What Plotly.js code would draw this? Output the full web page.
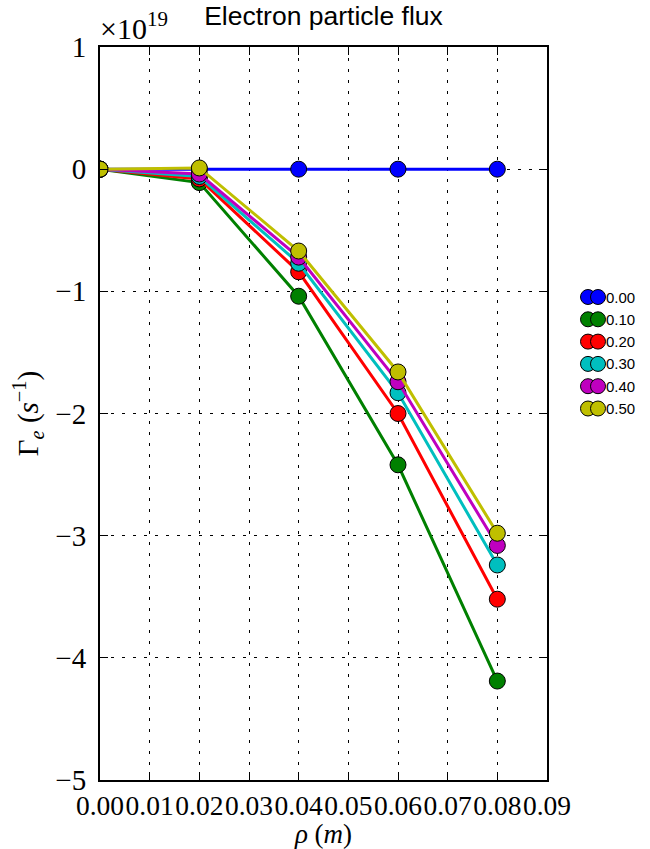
<!DOCTYPE html>
<html>
<head>
<meta charset="utf-8">
<script src="https://cdn.plot.ly/plotly-3.0.1.min.js"></script>
<style>html,body{margin:0;padding:0;background:#fff;}#chart{width:650px;height:849px;}</style>
</head>
<body>
<div id="chart"></div>
<script>
// Radial position rho (m)
const rho = [0.00, 0.02, 0.04, 0.06, 0.08];
// Series labels
const seriesLabels = ["0.00", "0.10", "0.20", "0.30", "0.40", "0.50"];
// Electron particle flux, in units of 1e19 s^-1
const flux000 = [0, 0, 0, 0, 0];
const flux010 = [0, -0.11, -1.04, -2.42, -4.19];
const flux020 = [0, -0.08, -0.84, -2.00, -3.52];
const flux030 = [0, -0.06, -0.77, -1.83, -3.24];
const flux040 = [0, -0.04, -0.72, -1.74, -3.08];
const flux050 = [0, 0.01, -0.67, -1.66, -2.98];
const xTicks = [0, 0.01, 0.02, 0.03, 0.04, 0.05, 0.06, 0.07, 0.08, 0.09];
const yTicks = [1, 0, -1, -2, -3, -4, -5];

const allFlux = [flux000, flux010, flux020, flux030, flux040, flux050];
const colors = ["#0000ff", "#008000", "#ff0000", "#00bfbf", "#bf00bf", "#bfbf00"];

const traces = allFlux.map((ys, i) => ({
  x: rho, y: ys, type: "scatter", mode: "lines+markers",
  name: seriesLabels[i], showlegend: false,
  line: {color: colors[i], width: 3},
  marker: {color: colors[i], size: 16, line: {color: "#000", width: 1}}
}));

// Custom legend: two overlapping markers per entry (matplotlib style)
const W = 447, H = 733, L = 100, T = 47;
const shapes = [];
const annotations = [];
seriesLabels.forEach((lab, i) => {
  const py = 297 + i * 22.3;
  const yp = (T + H - py) / H;
  [588, 598].forEach(px => {
    const xp = (px - L) / W;
    shapes.push({type: "circle", xref: "paper", yref: "paper",
      xsizemode: "pixel", ysizemode: "pixel", xanchor: xp, yanchor: yp,
      x0: -7.5, x1: 7.5, y0: -7.5, y1: 7.5,
      fillcolor: colors[i], line: {color: "#000", width: 1}});
  });
  annotations.push({xref: "paper", yref: "paper", x: (604 - L) / W, y: yp,
    xanchor: "left", yanchor: "middle", showarrow: false, text: lab,
    font: {family: "Liberation Sans, Arial, sans-serif", size: 15, color: "#000"}});
});
annotations.push({xref: "paper", yref: "paper", x: 0, y: 1, xanchor: "left", yanchor: "bottom",
  xshift: -2, yshift: 0, showarrow: false, text: "×10<sup>19</sup>",
  font: {family: "Liberation Serif, serif", size: 30, color: "#000"}});

const axisCommon = {
  showline: true, linecolor: "#000", linewidth: 2, mirror: "allticks",
  ticks: "inside", ticklen: 8, tickwidth: 1, tickcolor: "#000",
  showgrid: true, gridcolor: "#000", gridwidth: 1, griddash: "3px,8px",
  zeroline: false
};

const layout = {
  width: 650, height: 849,
  margin: {l: L, r: 650 - L - W, t: T, b: 849 - T - H},
  paper_bgcolor: "#fff", plot_bgcolor: "#fff",
  title: {text: "Electron particle flux", x: 0.5, xanchor: "center", xref: "paper",
    y: 1, yref: "container", yanchor: "top", pad: {t: 6},
    font: {family: "Liberation Sans, Arial, sans-serif", size: 26.5, color: "#000"}},
  xaxis: Object.assign({}, axisCommon, {
    range: [0, 0.09], tickvals: xTicks, tickformat: ".2f", tickangle: 0,
    tickfont: {family: "Liberation Serif, serif", size: 27.5, color: "#000"},
    title: {text: "<i>ρ</i> (<i>m</i>)", standoff: 2,
      font: {family: "Liberation Serif, serif", size: 27, color: "#000"}}
  }),
  yaxis: Object.assign({}, axisCommon, {
    range: [-5, 1], tickvals: yTicks, ticklabelstandoff: 6,
    tickfont: {family: "Liberation Serif, serif", size: 29, color: "#000"},
    title: {text: "Γ<sub><i>e</i></sub> (<i>s</i><sup>−1</sup>)", standoff: 8,
      font: {family: "Liberation Serif, serif", size: 29, color: "#000"}}
  }),
  shapes: shapes,
  annotations: annotations
};

Plotly.newPlot("chart", traces, layout, {displayModeBar: false, staticPlot: true});
</script>
</body>
</html>
